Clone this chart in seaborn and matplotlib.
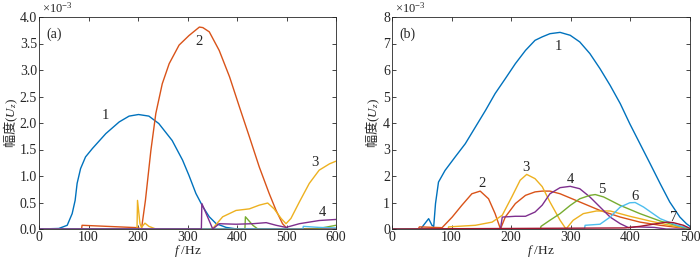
import numpy as np
import pandas as pd
import matplotlib
matplotlib.use('Agg')
import matplotlib.pyplot as plt
import seaborn as sns

# ========== data (amplitude in units of 1e-3) ==========
# panel (a)
a_f1 = [0, 40, 57, 67, 73, 77, 84, 94, 108, 135, 162, 182, 201, 222, 242, 269, 290, 303, 317, 331, 344, 358, 378, 400, 600]
a_v1 = [0, 0.01, 0.07, 0.29, 0.54, 0.86, 1.14, 1.36, 1.52, 1.8, 2.02, 2.13, 2.16, 2.13, 1.99, 1.67, 1.3, 1.01, 0.67, 0.42, 0.23, 0.1, 0.03, 0, 0]
a_f2 = [0, 86, 87, 199, 207, 215, 226, 236, 249, 263, 283, 303, 324, 331, 344, 364, 385, 405, 425, 445, 465, 479, 492, 502, 600]
a_v2 = [0, 0, 0.07, 0.025, 0, 0.54, 1.48, 2.18, 2.74, 3.12, 3.47, 3.65, 3.81, 3.8, 3.72, 3.37, 2.87, 2.3, 1.74, 1.17, 0.67, 0.35, 0.1, 0, 0]
a_f3 = [0, 198, 199, 204, 207, 214, 222, 236, 340, 351, 371, 398, 425, 445, 462, 475, 489, 499, 509, 526, 546, 566, 587, 600]
a_v3 = [0, 0, 0.54, 0.1, 0.03, 0.11, 0.05, 0, 0, 0.01, 0.23, 0.35, 0.38, 0.45, 0.49, 0.38, 0.2, 0.1, 0.2, 0.51, 0.86, 1.11, 1.23, 1.28]
a_f4 = [0, 328, 329, 351, 364, 398, 432, 459, 479, 499, 526, 566, 600]
a_v4 = [0, 0, 0.48, 0, 0.1, 0.09, 0.1, 0.12, 0.07, 0.03, 0.1, 0.16, 0.18]
a_f5 = [0, 416, 417, 432, 442, 560, 600]
a_v5 = [0, 0, 0.23, 0.07, 0, 0, 0.07]
a_f6 = [0, 533, 534, 566, 600]
a_v6 = [0, 0, 0.05, 0.03, 0.02]
a_f7 = [0, 600]
a_v7 = [0, 0]

# panel (b)
b_f1 = [0, 48, 61.5, 67, 70, 73, 78, 89, 106, 123, 140, 157, 173, 190, 207, 224, 240, 252, 265, 282, 299, 315, 332,
        349, 366, 383, 399, 416, 433, 450, 466, 483, 494, 500]
b_v1 = [0, 0, 0.39, 0.14, 0.1, 0.96, 1.77, 2.21, 2.72, 3.22, 3.85, 4.48, 5.11, 5.67, 6.24, 6.74, 7.12, 7.25, 7.37, 7.42, 7.31, 7.06, 6.62,
        6.05, 5.42, 4.73, 3.97, 3.22, 2.47, 1.71, 1.02, 0.45, 0.2, 0.1]
b_f2 = [0, 44, 46, 84, 101, 117, 134, 148, 162, 173, 182, 190, 207, 224, 240, 252, 265, 282, 315, 349, 383, 416, 450, 500]
b_v2 = [0, 0, 0.08, 0.05, 0.45, 0.89, 1.33, 1.43, 1.14, 0.58, 0, 0.45, 0.96, 1.27, 1.4, 1.43, 1.43, 1.33, 1.02, 0.7, 0.45, 0.26, 0.14, 0]
b_f3 = [0, 94, 95, 140, 168, 185, 201, 215, 226, 240, 252, 265, 282, 292, 304, 321, 343, 366, 399, 433, 466, 500]
b_v3 = [0, 0, 0.08, 0.14, 0.26, 0.52, 1.21, 1.84, 2.06, 1.9, 1.6, 1.02, 0.33, 0, 0.33, 0.58, 0.68, 0.68, 0.48, 0.3, 0.14, 0]
b_f4 = [0, 182, 185, 207, 224, 240, 252, 265, 282, 299, 315, 332, 349, 366, 383, 397, 410, 440, 460, 500]
b_v4 = [0, 0, 0.45, 0.48, 0.48, 0.64, 0.9, 1.33, 1.56, 1.61, 1.52, 1.21, 0.83, 0.45, 0.2, 0.05, 0.08, 0.06, 0, 0]
b_f5 = [0, 249, 250, 265, 282, 299, 315, 332, 341, 355, 383, 416, 450, 483, 500]
b_v5 = [0, 0, 0.1, 0.33, 0.58, 0.89, 1.14, 1.27, 1.3, 1.21, 0.89, 0.58, 0.3, 0.1, 0]
b_f6 = [0, 323, 324, 349, 366, 383, 399, 408, 422, 450, 478, 500]
b_v6 = [0, 0, 0.14, 0.18, 0.45, 0.83, 0.99, 1.0, 0.83, 0.39, 0.14, 0.03]
b_f7 = [0, 391, 416, 438, 461, 472, 489, 500]
b_v7 = [0, 0.04, 0.1, 0.18, 0.26, 0.24, 0.14, 0.02]

# curve numbers: (text, f, amplitude)
a_labels = [('1', 135, 2.15), ('2', 323, 3.53), ('3', 557, 1.25), ('4', 572, 0.32)]
b_labels = [('1', 279, 6.9), ('2', 151, 1.71), ('3', 225, 2.31), ('4', 300, 1.87),
            ('5', 352, 1.48), ('6', 408, 1.21), ('7', 472, 0.45)]

colors = ['#0072BD', '#D95319', '#EDB120', '#7E2F8E', '#77AC30', '#4DBEEE', '#A2142F']

# ========== style ==========
sns.set_style('ticks')
plt.rcParams['font.family'] = ['Liberation Serif', 'Noto Sans CJK SC']
plt.rcParams['mathtext.fontset'] = 'custom'
plt.rcParams['mathtext.rm'] = 'Liberation Serif'
plt.rcParams['mathtext.it'] = 'Liberation Serif:italic'
plt.rcParams['font.size'] = 10

fig = plt.figure(figsize=(7, 2.6), dpi=100)
ax_a = fig.add_axes([39 / 700, 31 / 260, 297 / 700, 212 / 260])
ax_b = fig.add_axes([392 / 700, 31 / 260, 298 / 700, 212 / 260])

series_a = [(a_f1, a_v1), (a_f2, a_v2), (a_f3, a_v3), (a_f5, a_v5), (a_f6, a_v6), (a_f7, a_v7), (a_f4, a_v4)]
colors_a = [colors[0], colors[1], colors[2], colors[4], colors[5], colors[6], colors[3]]
series_b = [(b_f1, b_v1), (b_f2, b_v2), (b_f3, b_v3), (b_f4, b_v4), (b_f5, b_v5), (b_f6, b_v6), (b_f7, b_v7)]

for (f, v), c in zip(series_a, colors_a):
    sns.lineplot(x=f, y=v, color=c, lw=1.0, ax=ax_a, sort=False)
for (f, v), c in zip(series_b, colors):
    sns.lineplot(x=f, y=v, color=c, lw=1.0, ax=ax_b, sort=False)

ax_a.set_xlim(0, 600)
ax_a.set_ylim(0, 4)
ax_a.set_xticks(np.arange(0, 601, 100))
ax_a.set_yticks(np.arange(0, 4.01, 0.5))
ax_a.set_yticklabels([f'{t:.1f}' for t in np.arange(0, 4.01, 0.5)])

ax_b.set_xlim(0, 500)
ax_b.set_ylim(0, 8)
ax_b.set_xticks(np.arange(0, 501, 100))
ax_b.set_yticks(np.arange(0, 9, 1))

for ax, tag, labels in [(ax_a, '(a)', a_labels), (ax_b, '(b)', b_labels)]:
    ax.tick_params(direction='in', top=True, right=True, length=3, width=0.6,
                   labelsize=10, pad=1.5, colors='#262626')
    for sp in ax.spines.values():
        sp.set_linewidth(0.6)
        sp.set_color('#262626')
    ax.set_xlabel('$f$ /Hz', fontsize=9.5, labelpad=-1)
    # 非数学部分用中文字体，括号和 U_z 走 mathtext 的衬线字体
    ax.set_ylabel(r'幅度$\mathrm{(}U_z\mathrm{)}$', fontsize=9.5, labelpad=1, family='Noto Sans CJK SC')
    ax.text(0.025, 0.95, tag, transform=ax.transAxes, fontsize=10, va='top', ha='left')
    ax.text(0.01, 1.005, r'$\times10^{-3}$', transform=ax.transAxes, fontsize=9, va='bottom', ha='left')
    for t, x, y in labels:
        ax.text(x, y, t, fontsize=10.5, ha='center', va='center')

# (a) 的纵轴标签以中心定位，避免出界
ax_a.yaxis.label.set_va('center')
ax_a.yaxis.set_label_coords(-0.094, 0.5)
fig.savefig('out.png', dpi=100)
